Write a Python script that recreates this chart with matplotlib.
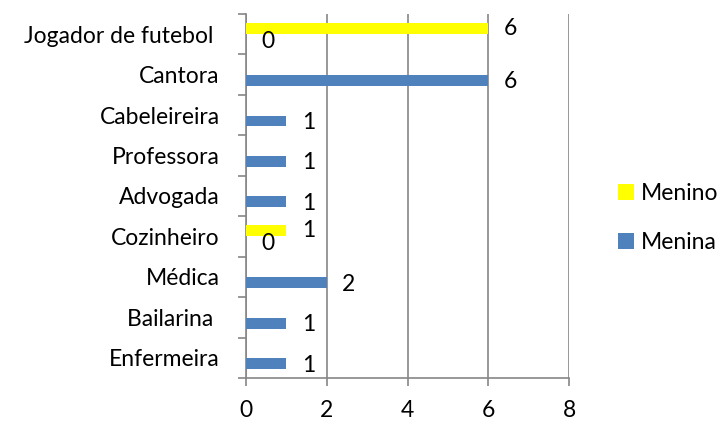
import matplotlib
matplotlib.use("Agg")
import matplotlib.pyplot as plt
import numpy as np

categories = ["Enfermeira", "Bailarina ", "Médica", "Cozinheiro", "Advogada",
              "Professora", "Cabeleireira", "Cantora", "Jogador de futebol "]
menina = [1, 1, 2, 0, 1, 1, 1, 6, 0]
menino = [np.nan, np.nan, np.nan, 1, np.nan, np.nan, np.nan, np.nan, 6]
x_ticks = [0, 2, 4, 6, 8]

plt.rcParams['font.family'] = ['Lato', 'DejaVu Sans']
fig = plt.figure(figsize=(7.26, 4.21), dpi=100)
ax = fig.add_axes([246/726, 1-378/421, (569-246)/726, (378-14)/421])

y = np.arange(len(categories))
h = 0.27
off = 0.145
bm = ax.barh(y - off, menina, height=h, color="#4F81BD", label="Menina", zorder=3)
by = ax.barh(y + off, menino, height=h, color="#FFFF00", label="Menino", zorder=3)

fs = 16.5
for yy, v in zip(y - off, menina):
    if not np.isnan(v):
        ax.annotate(f"{int(v)}", (v, yy), xytext=(11, -1), textcoords="offset points",
                    va="center", ha="left", fontsize=fs)
for yy, v in zip(y + off, menino):
    if not np.isnan(v):
        ax.annotate(f"{int(v)}", (v, yy), xytext=(11, 0), textcoords="offset points",
                    va="center", ha="left", fontsize=fs)

ax.set_xlim(0, 8)
ax.set_ylim(-0.5, len(categories) - 0.5)
ax.set_xticks(x_ticks)
ax.set_xticklabels([str(t) for t in x_ticks], fontsize=fs)
ax.set_yticks(np.arange(-0.5, len(categories), 1.0))
ax.set_yticklabels([])
ax.set_yticks(y, minor=True)
ax.set_yticklabels(categories, minor=True, fontsize=fs)

gc = "#868686"
ax.tick_params(axis="y", which="major", length=6, color=gc, width=1.2, direction="out")
ax.tick_params(axis="y", which="minor", length=0, pad=19)
ax.tick_params(axis="x", which="major", length=6, color=gc, width=1.2, direction="out", pad=10)

ax.xaxis.grid(True, color=gc, linewidth=1.2, zorder=0)
ax.set_axisbelow(True)
for s in ["top", "right"]:
    ax.spines[s].set_visible(False)
for s in ["left", "bottom"]:
    ax.spines[s].set_color(gc)
    ax.spines[s].set_linewidth(1.2)

handles = [by, bm]
fig.legend(handles, ["Menino", "Menina"], loc="upper left",
           bbox_to_anchor=(597/726, 1-162/421), frameon=False, fontsize=fs,
           handlelength=0.7, handleheight=0.7, handletextpad=0.3, labelspacing=1.25)

fig.savefig("out.png", dpi=100)
